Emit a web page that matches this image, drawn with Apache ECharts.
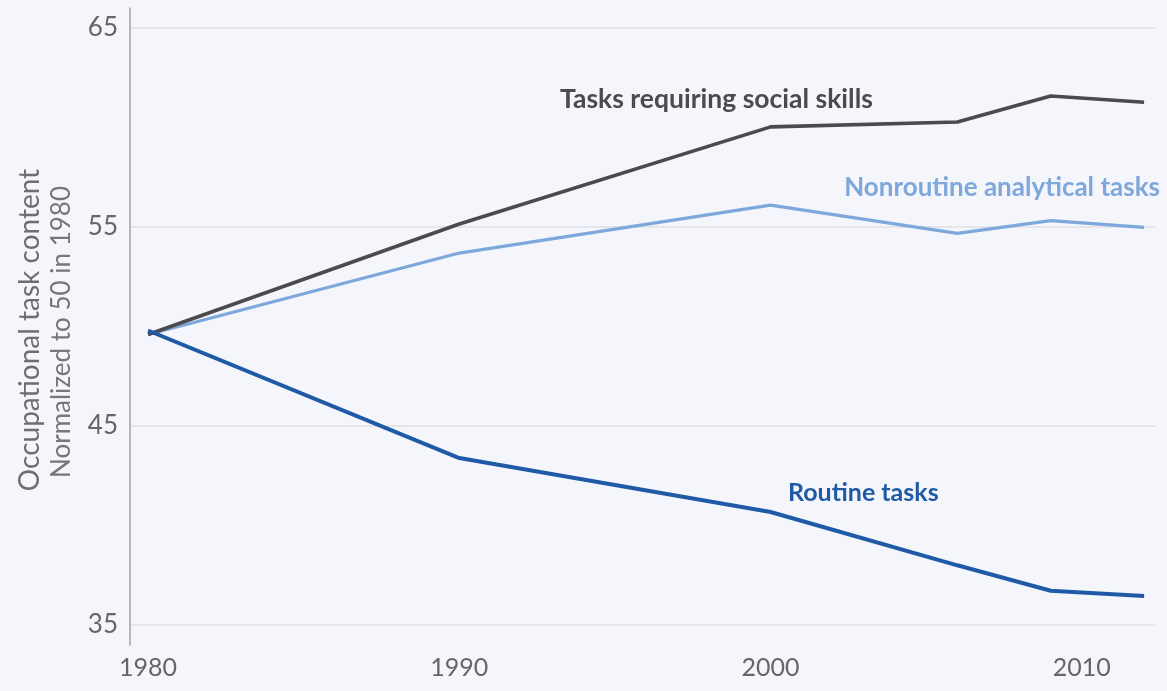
<!DOCTYPE html>
<html>
<head>
<meta charset="utf-8">
<script src="https://cdn.jsdelivr.net/npm/echarts@6/dist/echarts.min.js"></script>
<style>
html,body{margin:0;padding:0;background:#f4f6fb;}
#chart{width:1167px;height:691px;}
</style>
</head>
<body>
<div id="chart"></div>
<script>
const years = [1980, 1990, 2000, 2006, 2009, 2012];
const social = [49.6, 55.15, 60.03, 60.28, 61.58, 61.27];
const analytical = [49.6, 53.69, 56.1, 54.68, 55.32, 54.98];
const routine = [49.8, 43.39, 40.68, 38.0, 36.72, 36.46];
const xTicks = [1980, 1990, 2000, 2010];
const yTicks = [35, 45, 55, 65];
const labels = {
  social: 'Tasks requiring social skills',
  analytical: 'Nonroutine analytical tasks',
  routine: 'Routine tasks'
};
const yTitle = 'Occupational task content';
const ySub = 'Normalized to 50 in 1980';

const pair = (xs, ys) => xs.map((x, i) => [x, ys[i]]);
const FONT = 'Lato, "Noto Sans", sans-serif';

const chart = echarts.init(document.getElementById('chart'));
chart.setOption({
  backgroundColor: '#f4f6fb',
  animation: false,
  grid: [
    {left: 130, right: 12, top: 8, bottom: 46},
    {left: 130, right: 12, top: 28, bottom: 66}
  ],
  xAxis: [
    {gridIndex: 0, type: 'value', min: 1979.42, max: 2012.35, show: false},
    {gridIndex: 1, type: 'value', min: 1979.42, max: 2012.35,
     axisLine: {show: false}, axisTick: {show: false}, splitLine: {show: false},
     axisLabel: {customValues: xTicks, formatter: v => String(v), fontSize: 25, color: '#666', margin: 30, fontFamily: FONT}}
  ],
  yAxis: [
    {gridIndex: 0, type: 'value', min: 34, max: 66,
     axisLine: {show: true, lineStyle: {color: '#a3a3a3', width: 1.5}},
     axisTick: {show: false}, axisLabel: {show: false}, splitLine: {show: false}},
    {gridIndex: 1, type: 'value', min: 35, max: 65, interval: 10,
     axisLine: {show: false}, axisTick: {show: false},
     axisLabel: {customValues: yTicks, fontSize: 26, color: '#666', margin: 12, fontFamily: FONT},
     splitLine: {show: true, lineStyle: {color: '#e2dfe6', width: 1.5}}}
  ],
  series: [
    {type: 'line', xAxisIndex: 1, yAxisIndex: 1, data: pair(years, analytical),
     showSymbol: false, lineStyle: {color: '#7ea7db', width: 3.2}, z: 3},
    {type: 'line', xAxisIndex: 1, yAxisIndex: 1, data: pair(years, social),
     showSymbol: false, lineStyle: {color: '#4b4b4d', width: 3.6}, z: 4},
    {type: 'line', xAxisIndex: 1, yAxisIndex: 1, data: pair(years, routine),
     showSymbol: false, lineStyle: {color: '#1f5aa6', width: 4}, z: 5}
  ],
  graphic: [
    {type: 'text', left: 560, top: 86, style: {text: labels.social, fill: '#4b4b4d', font: 'bold 26.5px ' + FONT}},
    {type: 'text', right: 7, top: 175, style: {text: labels.analytical, fill: '#7ea7db', font: 'bold 26px ' + FONT}},
    {type: 'text', left: 788, top: 480, style: {text: labels.routine, fill: '#1f5aa6', font: 'bold 25px ' + FONT}},
    {type: 'text', x: 30, y: 330, rotation: Math.PI / 2,
     style: {text: yTitle, fill: '#6e6e6e', font: '28px ' + FONT, align: 'center', verticalAlign: 'middle'}},
    {type: 'text', x: 62, y: 332, rotation: Math.PI / 2,
     style: {text: ySub, fill: '#777', font: '26px ' + FONT, align: 'center', verticalAlign: 'middle'}}
  ]
});
</script>
</body>
</html>
